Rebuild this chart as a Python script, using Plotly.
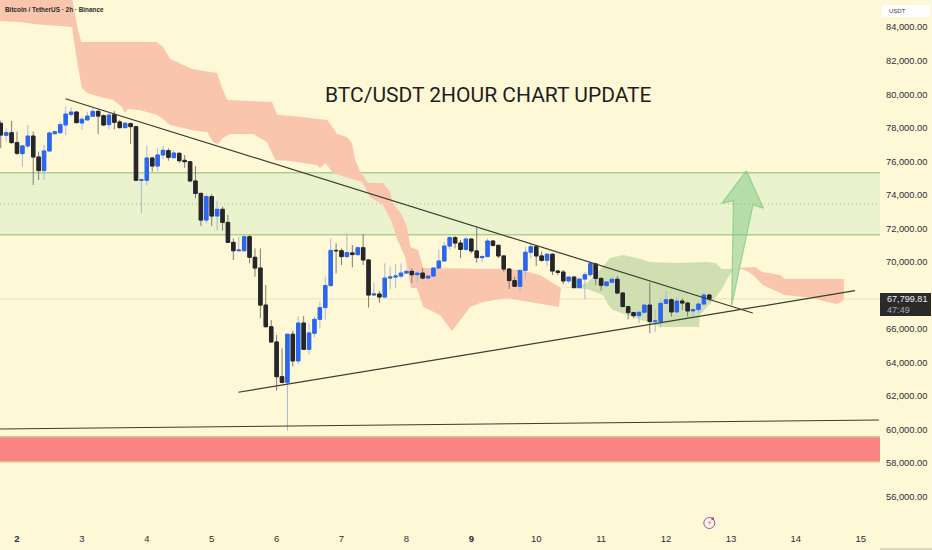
import plotly.graph_objects as go

# days of the month on the time scale, first candle is 18:00 on the 1st, then every 2 hours
first_bar = 1.75
bar_step = 1 / 12

opens = [78270, 77550, 77710, 77120, 76460, 76920, 77510, 76260, 75450, 76620, 77650, 77710,
         78170, 78800, 78940, 78290, 78470, 78690, 78980, 78720, 78190, 78780, 78350, 78010,
         78250, 78070, 74870, 74870, 76200, 75720, 76380, 76640, 76220, 76480, 76060, 75980,
         74830, 74090, 72500, 73900, 72740, 73140, 72360, 71170, 70670, 70670, 71510, 70280,
         69640, 67430, 66140, 65230, 63160, 62820, 65690, 64100, 66360, 64790, 65750, 66580,
         67280, 68590, 70690, 70670, 70320, 70540, 70440, 70850, 70120, 68030, 68090, 67910,
         69040, 69100, 69160, 69340, 69440, 69240, 69340, 69040, 69160, 69640, 70060, 70950,
         71450, 71130, 70750, 71370, 70660, 70260, 70320, 71250, 70990, 70360, 69580, 68890,
         68550, 69500, 70580, 70910, 70360, 70100, 70460, 69460, 69400, 68870, 69100, 68470,
         68980, 69240, 69880, 69020, 68590, 68790, 68970, 68150, 67340, 66980, 66800, 67000,
         67430, 66460, 66460, 67530, 67750, 67020, 67670, 67550, 67080, 67160, 67490, 68030]
highs = [78430, 77970, 78410, 77770, 76980, 78170, 77770, 76580, 76980, 77770, 77830, 78370,
         79270, 79220, 79000, 78670, 78960, 79160, 79060, 78800, 78860, 79000, 78470, 78350,
         78310, 78110, 74910, 76940, 76280, 76780, 76940, 76780, 76680, 76540, 76380, 76020,
         75720, 74130, 74090, 74050, 73660, 73300, 72800, 71410, 71510, 71610, 71610, 70810,
         70810, 68630, 66540, 65650, 64850, 65690, 65900, 66740, 66780, 66340, 66740, 67630,
         69120, 71410, 71110, 70810, 71710, 71010, 70910, 71670, 70160, 68770, 68270, 69920,
         69720, 69880, 69920, 69560, 69620, 69480, 69620, 69220, 69660, 70750, 71210, 71550,
         71550, 71310, 71470, 71410, 72070, 70420, 71410, 71310, 71070, 70400, 69620, 69120,
         69520, 70910, 71110, 71010, 70620, 70520, 70520, 69520, 69520, 69160, 69160, 69020,
         69420, 70020, 69960, 69080, 68870, 69120, 69160, 68190, 67390, 67040, 67040, 67530,
         68770, 67180, 67830, 68290, 67830, 67930, 67830, 67630, 67240, 67630, 68170, 68070]
lows = [76780, 77170, 77040, 76380, 75680, 76780, 74590, 74890, 74890, 76580, 77610, 77670,
        77570, 78660, 78270, 77870, 78430, 78660, 77630, 78110, 77910, 77910, 77970, 77970,
        77040, 74830, 72900, 74590, 75390, 75390, 76120, 76040, 76160, 75920, 75620, 74790,
        73800, 72150, 72300, 72150, 71870, 71870, 71150, 70120, 70620, 70620, 69920, 69120,
        66640, 66100, 65190, 62330, 62760, 59940, 63760, 63920, 64750, 64490, 65510, 66040,
        66540, 68530, 69320, 69820, 70220, 69680, 70360, 69820, 67280, 67970, 67570, 67890,
        68370, 68430, 69020, 69280, 68730, 68770, 68960, 68980, 69120, 69600, 70000, 70750,
        70810, 70220, 70670, 70520, 69960, 70020, 70280, 70910, 70220, 69420, 68390, 68530,
        68230, 69020, 70220, 69760, 70020, 69720, 69220, 69220, 68670, 68730, 68430, 68430,
        67770, 69120, 68630, 68290, 68530, 68730, 68090, 67300, 66580, 66640, 66340, 66940,
        65750, 65840, 66100, 67490, 66740, 66980, 67140, 66740, 66740, 66940, 67430, 67690]
closes = [77570, 77710, 77120, 76480, 76920, 77510, 76260, 75450, 76620, 77690, 77770, 78190,
          78820, 78940, 78310, 78510, 78700, 78980, 78700, 78170, 78760, 78330, 78010, 78270,
          78070, 74870, 74900, 76200, 75720, 76380, 76660, 76240, 76500, 76040, 75980, 74830,
          74090, 72500, 73900, 72740, 73140, 72360, 71170, 70670, 70710, 71510, 70280, 69640,
          67430, 66140, 65230, 63160, 62820, 65690, 64100, 66360, 64790, 65770, 66580, 67280,
          68590, 70690, 70670, 70320, 70560, 70440, 70850, 70120, 68030, 68090, 67910, 69040,
          69100, 69160, 69340, 69440, 69240, 69340, 69040, 69160, 69640, 70060, 70950, 71450,
          71130, 70750, 71370, 70660, 70260, 70320, 71250, 70990, 70360, 69580, 68890, 68550,
          69500, 70580, 70910, 70360, 70100, 70460, 69460, 69380, 68870, 69100, 68470, 68980,
          69240, 69900, 69020, 68610, 68810, 68970, 68150, 67340, 66980, 66800, 67000, 67430,
          66460, 66480, 67530, 67750, 67020, 67670, 67550, 67080, 67160, 67490, 68030, 67800]
bar_days = [first_bar + i * bar_step for i in range(len(opens))]

red_cloud_days = [1.74, 2.84, 2.93, 2.99, 4.15, 4.25, 4.36, 4.47, 4.56, 4.70, 4.87, 5.08, 5.16,
                  5.24, 5.93, 6.01, 6.25, 6.51, 6.78, 6.87, 6.93, 7.08, 7.16, 7.21, 7.29, 7.41,
                  7.64, 7.75, 7.79, 7.93, 8.01, 8.06, 8.18, 8.26, 9.49, 9.75, 10.06, 10.18, 10.38,
                  10.35, 10.17, 9.55, 9.18, 8.98, 8.83, 8.70, 8.52, 8.26, 8.16, 8.07, 7.98, 7.85,
                  7.78, 7.64, 7.44, 7.32, 7.10, 6.87, 6.75, 6.67, 6.62, 6.21, 5.98, 5.85, 5.64,
                  5.28, 5.17, 5.10, 5.02, 4.93, 4.77, 4.56, 4.36, 4.25, 4.16, 3.89, 3.71, 3.66,
                  3.62, 3.48, 3.28, 3.08, 3.00, 2.94, 2.86, 2.85, 2.25, 2.05, 1.74]
red_cloud_prices = [85920, 85920, 84012, 83118, 83118, 82819, 82104, 81925, 81746, 81508, 81388,
                    81269, 80375, 79659, 79540, 78765, 78705, 78586, 78466, 77989, 77632, 77453,
                    77095, 76081, 75366, 74710, 74710, 74173, 73517, 72802, 72086, 70893, 70715,
                    69641, 69581, 69522, 69224, 68926, 68448, 67316, 67435, 67852, 67614, 67316,
                    66540, 65884, 66838, 67316, 68449, 68449, 70297, 71430, 72325, 73398, 73875,
                    74769, 75008, 75306, 75902, 75604, 75783, 76022, 76081, 77155, 77632, 77632,
                    77393, 77035, 77155, 77751, 77811, 77989, 78168, 78526, 78765, 79063, 79122,
                    78884, 79242, 79659, 79838, 80076, 80375, 81627, 83654, 84012, 84191, 84310,
                    84370]
green_cloud_days = [10.38, 10.57, 10.78, 10.98, 11.14, 11.34, 11.55, 11.75, 12.17, 12.63, 12.76,
                    12.86, 13.11, 13.03, 12.96, 12.85, 12.76, 12.52, 12.51, 11.91, 11.75, 11.49,
                    11.18, 11.11, 11.03, 10.78, 10.57]
green_cloud_prices = [68448, 68508, 68747, 69522, 70237, 70416, 70237, 69999, 69939, 69999, 69939,
                      69581, 69581, 69522, 69104, 68329, 67852, 66838, 66122, 66122, 66361, 66719,
                      67137, 67435, 68031, 68389, 68449]
red_cloud2_days = [13.11, 13.37, 13.48, 13.76, 13.83, 14.74, 14.74, 14.64, 14.48, 14.26, 13.83,
                   13.49, 13.34, 13.25]
red_cloud2_prices = [69641, 69700, 69403, 69224, 68985, 68985, 67733, 67495, 67614, 67852, 68031,
                     68627, 69224, 69462]

arrow_days = [13.24, 13.50, 13.34, 13.01, 13.04, 12.86, 13.24]
arrow_prices = [75443, 73201, 73398, 67375, 73654, 73499, 75443]

down_trend_days = [2.747, 13.336]
down_trend_prices = [79736, 66958]
up_trend_days = [5.41, 14.912]
up_trend_prices = [62230, 68287]
base_line_days = [1.738, 15.28]
base_line_prices = [60041, 60577]

green_zone = [71627, 75324]
green_zone_mid = 73463
red_zone = [58090, 59580]
last_price = 67799.81

price_ticks = [84000, 82000, 80000, 78000, 76000, 74000, 72000, 70000, 68000, 66000, 64000,
               62000, 60000, 58000, 56000]
day_ticks = [2, 3, 4, 5, 6, 7, 8, 9, 10, 11, 12, 13, 14, 15]
day_labels = ["<b>2</b>", "3", "4", "5", "6", "7", "8", "<b>9</b>", "10", "11", "12", "13", "14", "15"]

BG = "#FEF8D6"
FONT = "Liberation Sans"
W, H = 880, 528


def px(x):
    return x / W


def py(y):
    return 1 - y / H


def cloud(days, prices, color):
    # shapes on the below layer, scatter fills would cover the candles
    path = "M " + " L ".join(f"{d},{p}" for d, p in zip(days, prices)) + " Z"
    return dict(type="path", xref="x", yref="y", path=path, fillcolor=color,
                line=dict(width=0), layer="below")


def trend(days, prices, width=1.2):
    return go.Scatter(x=days, y=prices, mode="lines", line=dict(color="#3A3D30", width=width),
                      hoverinfo="skip", showlegend=False)


fig = go.Figure()

# wicks first, bodies on top, since a candlestick has one line colour
fig.add_trace(go.Candlestick(x=bar_days, open=opens, high=highs, low=lows, close=closes,
                             increasing=dict(line=dict(color="#A9B8D6", width=1), fillcolor="#A9B8D6"),
                             decreasing=dict(line=dict(color="#7E7E70", width=1), fillcolor="#7E7E70"),
                             hoverinfo="skip", showlegend=False))
body_tops = [max(o, c) for o, c in zip(opens, closes)]
body_bottoms = [min(o, c) for o, c in zip(opens, closes)]
fig.add_trace(go.Candlestick(x=bar_days, open=opens, high=body_tops, low=body_bottoms, close=closes,
                             increasing=dict(line=dict(color="#2B66F0", width=1), fillcolor="#2B66F0"),
                             decreasing=dict(line=dict(color="#26262A", width=1), fillcolor="#26262A"),
                             hoverinfo="skip", showlegend=False))

fig.add_trace(trend(down_trend_days, down_trend_prices))
fig.add_trace(trend(up_trend_days, up_trend_prices))
fig.add_trace(trend(base_line_days, base_line_prices, width=1))
fig.add_trace(go.Scatter(x=arrow_days, y=arrow_prices, mode="lines", fill="toself",
                         fillcolor="rgba(125,200,130,0.5)",
                         line=dict(color="rgba(120,195,125,0.65)", width=1.2),
                         hoverinfo="skip", showlegend=False))

shapes = [
    dict(type="rect", xref="paper", x0=0, x1=1, yref="y", y0=green_zone[0], y1=green_zone[1],
         fillcolor="#EAF3CD", line=dict(width=0), layer="below"),
    dict(type="line", xref="paper", x0=0, x1=1, yref="y", y0=green_zone[0], y1=green_zone[0],
         line=dict(color="#ABCF8F", width=1.4), layer="below"),
    dict(type="line", xref="paper", x0=0, x1=1, yref="y", y0=green_zone[1], y1=green_zone[1],
         line=dict(color="#ABCF8F", width=1.4), layer="below"),
    dict(type="line", xref="paper", x0=0, x1=1, yref="y", y0=green_zone_mid, y1=green_zone_mid,
         line=dict(color="#A8BD8C", width=1, dash="1px 3px"), layer="below"),
    dict(type="rect", xref="paper", x0=0, x1=1, yref="y", y0=red_zone[0], y1=red_zone[1],
         fillcolor="#FB8383", line=dict(width=0), layer="below"),
    dict(type="line", xref="paper", x0=0, x1=1, yref="y", y0=red_zone[0], y1=red_zone[0],
         line=dict(color="#DDC58F", width=1.4), layer="below"),
    dict(type="line", xref="paper", x0=0, x1=1, yref="y", y0=red_zone[1], y1=red_zone[1],
         line=dict(color="#DDC58F", width=1.4), layer="below"),
    dict(type="line", xref="paper", x0=0, x1=1, yref="y", y0=last_price, y1=last_price,
         line=dict(color="#E3E3BC", width=1), layer="below"),
    cloud(red_cloud_days, red_cloud_prices, "#F9C5AD"),
    cloud(green_cloud_days, green_cloud_prices, "#D0DFB2"),
    cloud(red_cloud2_days, red_cloud2_prices, "#F9C5AD"),
    # price scale furniture
    dict(type="rect", xref="paper", x0=px(882), x1=px(930), yref="paper", y0=py(17), y1=py(5),
         fillcolor="#FFFFFF", line=dict(width=0)),
    dict(type="rect", xref="paper", x0=px(880), x1=px(931), yref="paper", y0=py(316), y1=py(293),
         fillcolor="#2A2A2A", line=dict(width=0)),
    dict(type="line", xref="paper", x0=px(880), x1=px(932), yref="paper", y0=py(549), y1=py(549),
         line=dict(color="#B8B8A8", width=1)),
    # lightning badge on the time scale
    dict(type="circle", xref="paper", x0=px(703.8), x1=px(714.8), yref="paper", y0=py(528.5), y1=py(517.5),
         line=dict(color="#9C4DD3", width=1), fillcolor="rgba(0,0,0,0)"),
    dict(type="circle", xref="paper", x0=px(711.3), x1=px(714.1), yref="paper", y0=py(520.1), y1=py(517.3),
         line=dict(width=0), fillcolor="#F23645"),
]

annotations = [
    dict(text="BTC/USDT 2HOUR CHART UPDATE", xref="paper", yref="paper", x=px(488.5), y=py(95),
         showarrow=False, xanchor="center", yanchor="middle",
         font=dict(family="Roboto", size=21, color="#1E1E1E")),
    dict(text="Bitcoin / TetherUS · 2h · Binance", xref="paper", yref="paper", x=px(3), y=py(9),
         showarrow=False, xanchor="left", yanchor="middle",
         font=dict(family=FONT, size=6.4, color="#2A2A2A", weight=600)),
    dict(text="USDT", xref="paper", yref="paper", x=px(887), y=py(10.5), showarrow=False,
         xanchor="left", yanchor="middle", font=dict(family=FONT, size=6, color="#3A3A3A")),
    dict(text="67,799.81", xref="paper", yref="paper", x=px(885), y=py(299), showarrow=False,
         xanchor="left", yanchor="middle", font=dict(family=FONT, size=9.1, color="#F0F0F0")),
    dict(text="47:49", xref="paper", yref="paper", x=px(885), y=py(309.5), showarrow=False,
         xanchor="left", yanchor="middle", font=dict(family=FONT, size=9.1, color="#A8A8A8")),
    dict(text="⚡", xref="paper", yref="paper", x=px(709.3), y=py(523), showarrow=False,
         xanchor="center", yanchor="middle", font=dict(family="DejaVu Sans", size=7, color="#9C4DD3")),
]

fig.update_layout(
    width=932, height=550,
    margin=dict(l=0, r=52, t=0, b=22),
    paper_bgcolor=BG, plot_bgcolor=BG,
    showlegend=False,
    boxgap=0.15, boxgroupgap=0.25,
    shapes=shapes,
    annotations=annotations,
    xaxis=dict(range=[1.738, 15.297], tickvals=day_ticks, ticktext=day_labels, showgrid=False,
               zeroline=False, showline=False, ticks="", rangeslider=dict(visible=False),
               ticklabelstandoff=3,
               tickfont=dict(family=FONT, size=9.5, color="#2A2E39")),
    yaxis=dict(range=[54137, 85622], side="right", tickvals=price_ticks,
               ticktext=[f"{p:,.2f}" for p in price_ticks], showgrid=False, zeroline=False,
               showline=False, ticks="", ticklabelstandoff=5,
               tickfont=dict(family=FONT, size=9.3, color="#2A2E39")),
)

fig.write_html("out.html", config=dict(displayModeBar=False),
               post_script="document.body.style.margin='0';")
